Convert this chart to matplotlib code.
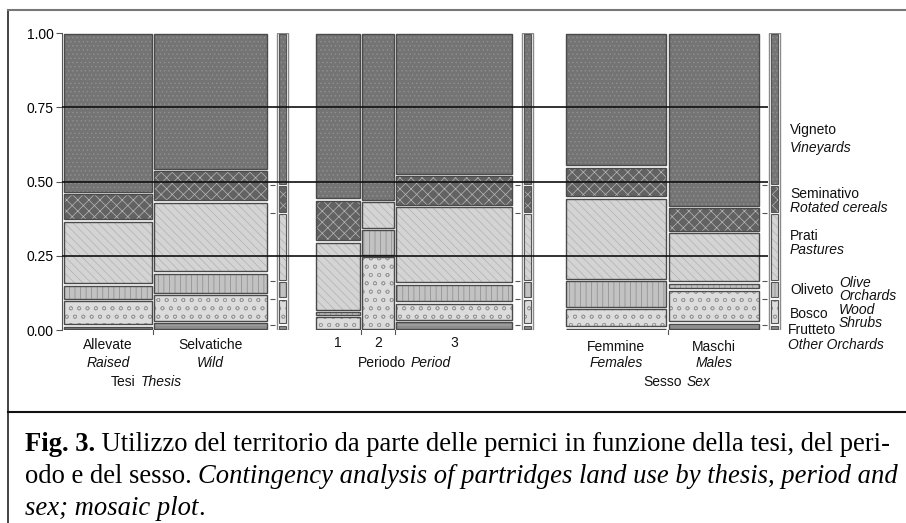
import numpy as np
import matplotlib.pyplot as plt

plt.rcParams['font.family'] = ['Liberation Sans', 'DejaVu Sans']
plt.rcParams['hatch.linewidth'] = 0.5

# land-use classes, bottom to top of every column
land_it = ["Frutteto", "Bosco", "Oliveto", "Prati", "Seminativo", "Vigneto"]
land_en = ["Other Orchards", "Wood\nShrubs", "Olive\nOrchards", "Pastures", "Rotated cereals", "Vineyards"]

# Tesi (thesis)
tesi_it = ["Allevate", "Selvatiche"]
tesi_en = ["Raised", "Wild"]
tesi_width = [0.44, 0.56]
tesi_share = [
    [0.015, 0.085, 0.053, 0.216, 0.093, 0.538],
    [0.026, 0.095, 0.072, 0.240, 0.105, 0.462],
]

# Periodo (period)
periodo_it = ["1", "2", "3"]
periodo_width = [0.232, 0.172, 0.596]
periodo_share = [
    [0.000, 0.047, 0.018, 0.233, 0.142, 0.560],
    [0.000, 0.249, 0.092, 0.093, 0.000, 0.566],
    [0.031, 0.061, 0.065, 0.261, 0.103, 0.479],
]

# Sesso (sex)
sesso_it = ["Femmine", "Maschi"]
sesso_en = ["Females", "Males"]
sesso_width = [0.526, 0.474]
sesso_share = [
    [0.008, 0.067, 0.093, 0.278, 0.104, 0.450],
    [0.025, 0.111, 0.024, 0.170, 0.085, 0.585],
]

# overall distribution (marginal bar at the right of each mosaic)
overall_share = [0.018, 0.088, 0.060, 0.227, 0.095, 0.512]

# look of each class (grey textures like the printed figure)
face = ["#8e8e8e", "#dcdcdc", "#c2c2c2", "#d4d4d4", "#626262", "#747474"]
tex_col = ["#b4b4b4", "#9a9a9a", "#8a8a8a", "#b0b0b0", "#b8b8b8", "#909090"]
tex = ["---", "oo", "|||", "\\\\\\\\", "xxx", "...."]

fig = plt.figure(figsize=(9.06, 5.23), dpi=100)

# frame + caption layer in pixel units
cap = fig.add_axes([0, 0, 1, 1], zorder=-1)
cap.set_xlim(0, 906)
cap.set_ylim(523, 0)
cap.axis('off')
cap.plot([8, 8], [10, 523], color='#222222', lw=1.2)
cap.plot([8, 906], [10, 10], color='#777777', lw=1.5)
cap.plot([8, 906], [412, 412], color='#111111', lw=1.5)

ax = fig.add_axes([62 / 906, (523 - 330) / 523, 728 / 906, 297 / 523])
ax.set_xlim(-0.005, 3.635)
ax.set_ylim(0, 1)

panel_x0 = [0.0, 1.26, 2.51]
panel_w = [1.025, 0.99, 0.975]
gx, gy = 0.006, 0.004


def draw_cell(x, b, w, h, k):
    ax.bar(x + gx, h - 2 * gy, width=w - 2 * gx, bottom=b + gy, align='edge',
           color=face[k], edgecolor=tex_col[k], hatch=tex[k], linewidth=0)
    ax.bar(x + gx, h - 2 * gy, width=w - 2 * gx, bottom=b + gy, align='edge',
           fill=False, edgecolor='#4a4a4a', linewidth=1)


def draw_mosaic(x0, pw, widths, shares):
    left = x0
    centers = []
    for w, share in zip(widths, shares):
        cw = w * pw
        bottoms = np.concatenate([[0], np.cumsum(share)[:-1]])
        for k, (b, h) in enumerate(zip(bottoms, share)):
            if h > 0:
                draw_cell(left, b, cw, h, k)
        centers.append(left + cw / 2)
        left += cw
        if left < x0 + pw - 0.01:
            ax.plot([left, left], [0, -0.015], color='#555555', lw=0.8, clip_on=False)
    # marginal bar
    right = x0 + pw
    mx, mw = right + 0.045, 0.055
    ax.bar(mx, 1, width=mw, bottom=0, align='edge', fill=False,
           edgecolor='#8a8a8a', linewidth=1)
    bottoms = np.concatenate([[0], np.cumsum(overall_share)[:-1]])
    for k, (b, h) in enumerate(zip(bottoms, overall_share)):
        ax.bar(mx + 0.012, h - 2 * gy, width=mw - 0.024, bottom=b + gy, align='edge',
               color=face[k], edgecolor=tex_col[k], hatch=tex[k], linewidth=0)
        ax.bar(mx + 0.012, h - 2 * gy, width=mw - 0.024, bottom=b + gy, align='edge',
               fill=False, edgecolor='#555555', linewidth=0.8)
    ax.hlines(bottoms[1:], right + 0.012, right + 0.035, color='#555555', lw=0.8)
    return centers


c_tesi = draw_mosaic(panel_x0[0], panel_w[0], tesi_width, tesi_share)
c_per = draw_mosaic(panel_x0[1], panel_w[1], periodo_width, periodo_share)
c_ses = draw_mosaic(panel_x0[2], panel_w[2], sesso_width, sesso_share)

# reference lines
ax.hlines([0.25, 0.5, 0.75], -0.005, 3.525, color='#111111', lw=1.2, zorder=5)

# axes
for s in ['top', 'right', 'bottom']:
    ax.spines[s].set_visible(False)
ax.spines['left'].set_color('#555555')
ax.set_xticks([])
ax.set_yticks([0, 0.25, 0.5, 0.75, 1.0])
ax.set_yticklabels(["0.00", "0.25", "0.50", "0.75", "1.00"])
ax.tick_params(axis='y', length=4, width=0.8, color='#555555', labelsize=10, pad=2)

fs_lab = 10
lab = dict(fontsize=fs_lab, ha='center', va='center', clip_on=False, color='#111111')

# column labels
for cx, it, en in zip(c_tesi, tesi_it, tesi_en):
    ax.text(cx, -0.05, it, **lab)
    ax.text(cx, -0.111, en, style='italic', **lab)
for cx, it in zip(c_per, periodo_it):
    ax.text(cx, -0.045, it, **lab)
for cx, it, en in zip(c_ses, sesso_it, sesso_en):
    ax.text(cx, -0.057, it, **lab)
    ax.text(cx, -0.111, en, style='italic', **lab)

# variable names
names = [("Tesi", "Thesis", 0.375, -0.175),
         ("Periodo", "Period", 1.725, -0.111),
         ("Sesso", "Sex", 3.105, -0.175)]
for it, en, xx, yy in names:
    ax.text(xx - 0.012, yy, it, fontsize=fs_lab, ha='right', va='center', clip_on=False, color='#111111')
    ax.text(xx + 0.012, yy, en, fontsize=fs_lab, ha='left', va='center', style='italic',
            clip_on=False, color='#111111')

# class labels at the right
rl = dict(fontsize=fs_lab, ha='left', va='center', clip_on=False, color='#111111')
ax.text(3.635, 0.673, land_it[5], **rl)
ax.text(3.635, 0.613, land_en[5], style='italic', **rl)
ax.text(3.635, 0.458, land_it[4], **rl)
ax.text(3.635, 0.411, land_en[4], style='italic', **rl)
ax.text(3.635, 0.316, land_it[3], **rl)
ax.text(3.635, 0.269, land_en[3], style='italic', **rl)
ax.text(3.635, 0.135, land_it[2], **rl)
ax.text(3.88, 0.135, land_en[2], style='italic', linespacing=0.9, **rl)
ax.text(3.635, 0.054, land_it[1], **rl)
ax.text(3.88, 0.046, land_en[1], style='italic', linespacing=0.9, **rl)
ax.text(3.625, 0.0, land_it[0], **rl)
ax.text(3.625, -0.049, land_en[0], style='italic', **rl)

# caption
fs = 19.2
serif = 'Liberation Serif'
t = cap.text(25, 451, "Fig. 3.", fontsize=fs, family=serif, fontweight='bold', va='baseline')
cap.annotate(" Utilizzo del territorio da parte delle pernici in funzione della tesi, del peri-",
             xy=(1, 0), xycoords=t, va='bottom', fontsize=fs, family=serif)
t = cap.text(25, 483, "odo e del sesso. ", fontsize=fs, family=serif, va='baseline')
cap.annotate("Contingency analysis of partridges land use by thesis, period and",
             xy=(1, 0), xycoords=t, va='bottom', fontsize=fs, family=serif, style='italic')
t = cap.text(25, 515, "sex; mosaic plot", fontsize=fs, family=serif, style='italic', va='baseline')
cap.annotate(".", xy=(1, 0), xycoords=t, va='bottom', fontsize=fs, family=serif)

fig.savefig("out.png", dpi=100)
